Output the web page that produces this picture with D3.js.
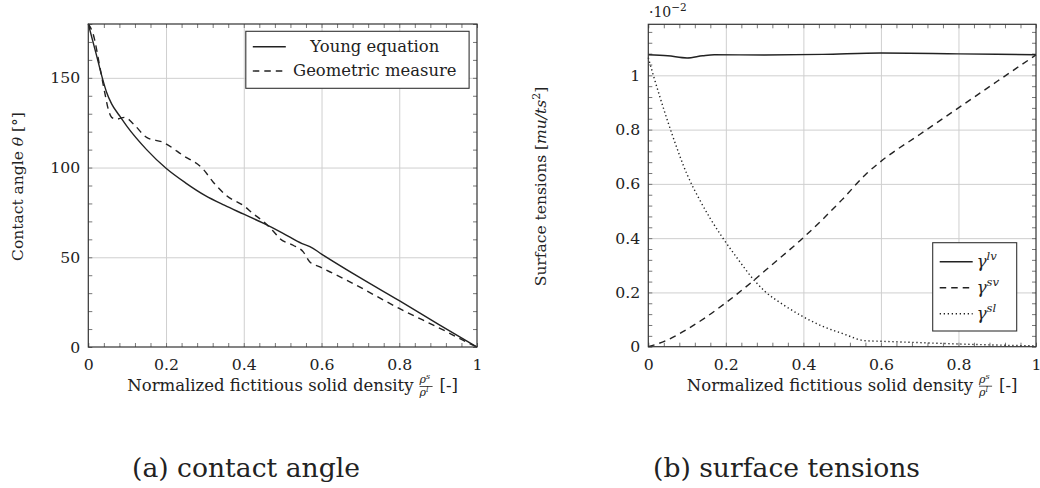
<!DOCTYPE html>
<html>
<head>
<meta charset="utf-8">
<script src="https://cdn.jsdelivr.net/npm/d3@7"></script>
<style>
  body { margin: 0; background: #fff; }
  svg { display: block; }
  text { font-family: "DejaVu Serif", serif; fill: #222; }
  .grid line { stroke: #cfcfcf; stroke-width: 1; }
  .grid .domain { display: none; }
  .minor line { stroke: #777; stroke-width: 1; }
  .minor .domain { display: none; }
  .labels .domain { display: none; }
  .labels line { display: none; }
  .labels text { font-size: 15.7px; }
  .frame { fill: none; stroke: #333; stroke-width: 1.2; }
  .line { fill: none; stroke: #222; stroke-width: 1.4; }
</style>
</head>
<body>
<div id="chart"></div>
<script>
// ---- data (a) contact angle
const youngX = [0, 0.02, 0.036, 0.047, 0.06, 0.08, 0.1, 0.15, 0.2, 0.25, 0.3, 0.35, 0.4, 0.45, 0.5, 0.55, 0.57, 0.6, 0.7, 0.8, 0.9, 1.0];
const youngY = [180, 163.5, 150, 142, 135.5, 129, 122.8, 110, 99.6, 91.5, 84.5, 79, 74, 69, 63.5, 57.6, 56, 51.8, 38.5, 25.8, 12.8, 0];

const geomX = [0, 0.013, 0.03, 0.043, 0.052, 0.06, 0.073, 0.094, 0.116, 0.15, 0.193, 0.244, 0.296, 0.322, 0.356, 0.4, 0.424, 0.45, 0.476, 0.493, 0.527, 0.553, 0.57, 0.596, 0.665, 0.8, 0.922, 0.96, 1.0];
const geomY = [180, 174, 155.7, 141, 132, 128, 127, 128, 124.3, 116.8, 114, 106.7, 99, 91.7, 84.3, 78.7, 74.3, 70, 64.5, 60.4, 56.7, 53, 47.4, 44.6, 37.2, 21.5, 8.5, 4.2, 0];

// ---- data (b) surface tensions (x 1e-2)
const lvX = [0, 0.05, 0.1, 0.14, 0.17, 0.3, 0.45, 0.6, 0.8, 1];
const lvY = [1.076, 1.072, 1.064, 1.072, 1.076, 1.075, 1.077, 1.082, 1.079, 1.076];

const svX = [0, 0.05, 0.1, 0.15, 0.2, 0.27, 0.3, 0.4, 0.5, 0.56, 0.6, 0.7, 0.8, 0.9, 1];
const svY = [0, 0.025, 0.064, 0.11, 0.162, 0.242, 0.279, 0.402, 0.542, 0.634, 0.683, 0.782, 0.88, 0.978, 1.075];

const slX = [0, 0.013, 0.03, 0.062, 0.1, 0.133, 0.16, 0.19, 0.23, 0.27, 0.3, 0.35, 0.4, 0.45, 0.5, 0.56, 0.6, 0.7, 0.8, 0.9, 1];
const slY = [1.065, 1.0, 0.92, 0.78, 0.635, 0.54, 0.472, 0.405, 0.325, 0.25, 0.205, 0.153, 0.11, 0.075, 0.049, 0.022, 0.02, 0.015, 0.01, 0.006, 0.003];

const xTicks = [0, 0.2, 0.4, 0.6, 0.8, 1];
const angleTicks = [0, 50, 100, 150];
const tensionTicks = [0, 0.2, 0.4, 0.6, 0.8, 1];

const svg = d3.select("#chart").append("svg")
  .attr("width", 1040)
  .attr("height", 488);

function zip(xs, ys) {
  return xs.map((x, i) => [x, ys[i]]);
}

function range(a, b, step) {
  const out = [];
  for (let v = a; v <= b + 1e-9; v += step) out.push(+v.toFixed(4));
  return out;
}

function panel(opt) {
  const w = opt.right - opt.left;
  const h = opt.bottom - opt.top;
  const x = d3.scaleLinear().domain([0, 1]).range([0, w]);
  const y = d3.scaleLinear().domain(opt.yDomain).range([h, 0]);

  const g = svg.append("g").attr("transform", `translate(${opt.left},${opt.top})`);

  // grid
  g.append("g").attr("class", "grid")
    .call(d3.axisBottom(x).tickValues(xTicks.slice(1, -1)).tickSize(h).tickFormat(""));
  g.append("g").attr("class", "grid")
    .call(d3.axisLeft(y).tickValues(opt.yTicks.slice(1)).tickSize(-w).tickFormat(""));

  // minor ticks, inward on all four sides
  const xMinor = range(0, 1, 0.04);
  const yMinor = range(opt.yDomain[0], opt.yDomain[1], opt.yMinorStep);
  g.append("g").attr("class", "minor").attr("transform", `translate(0,${h})`)
    .call(d3.axisBottom(x).tickValues(xMinor).tickSize(-4).tickFormat(""));
  g.append("g").attr("class", "minor")
    .call(d3.axisTop(x).tickValues(xMinor).tickSize(-4).tickFormat(""));
  g.append("g").attr("class", "minor")
    .call(d3.axisLeft(y).tickValues(yMinor).tickSize(-4).tickFormat(""));
  g.append("g").attr("class", "minor").attr("transform", `translate(${w},0)`)
    .call(d3.axisRight(y).tickValues(yMinor).tickSize(-4).tickFormat(""));

  // tick labels
  g.append("g").attr("class", "labels").attr("transform", `translate(0,${h})`)
    .call(d3.axisBottom(x).tickValues(xTicks).tickSize(0).tickPadding(12).tickFormat(d3.format("~g")));
  g.append("g").attr("class", "labels")
    .call(d3.axisLeft(y).tickValues(opt.yTicks).tickSize(0).tickPadding(8).tickFormat(d3.format("~g")));

  // curves
  const line = d3.line()
    .x(d => x(d[0]))
    .y(d => y(d[1]))
    .curve(d3.curveMonotoneX);

  opt.series.forEach(s => {
    g.append("path")
      .datum(s.data)
      .attr("class", "line")
      .attr("stroke-dasharray", s.dash)
      .attr("d", line);
  });

  g.append("rect").attr("class", "frame").attr("width", w).attr("height", h);

  // x axis label with stacked fraction
  const lab = g.append("g");
  const main = lab.append("text").style("font-size", "16.5px").text("Normalized fictitious solid density");
  const mainW = main.node().getComputedTextLength();
  const fx = mainW + 6;
  const num = lab.append("text").attr("x", fx).attr("y", -8).style("font-size", "11px").style("font-style", "italic");
  num.append("tspan").text("ρ");
  num.append("tspan").attr("dy", -4).style("font-size", "8px").text("s");
  lab.append("line").attr("x1", fx).attr("x2", fx + 13).attr("y1", -4.5).attr("y2", -4.5)
    .attr("stroke", "#222").attr("stroke-width", 0.8);
  const den = lab.append("text").attr("x", fx).attr("y", 5).style("font-size", "11px").style("font-style", "italic");
  den.append("tspan").text("ρ");
  den.append("tspan").attr("dy", -4).style("font-size", "8px").text("l");
  const br = lab.append("text").attr("x", fx + 20).style("font-size", "16.5px").text("[-]");
  const totalW = fx + 20 + br.node().getComputedTextLength();
  lab.attr("transform", `translate(${w / 2 + 10 - totalW / 2},${h + 44})`);

  // y axis label
  const yl = svg.append("text")
    .attr("transform", `translate(${opt.yLabelX},${opt.top + h / 2 + 1}) rotate(-90)`)
    .attr("text-anchor", "middle")
    .style("font-size", "15.5px");
  opt.yLabel(yl);

  // legend
  const lg = g.append("g").attr("transform", `translate(${opt.legend.x},${opt.legend.y})`);
  lg.append("rect")
    .attr("width", opt.legend.w).attr("height", opt.legend.h)
    .attr("fill", "#fff").attr("stroke", "#333").attr("stroke-width", 1.1);
  opt.series.forEach((s, i) => {
    const ly = opt.legend.first + i * opt.legend.step;
    lg.append("line")
      .attr("class", "line")
      .attr("x1", 7).attr("x2", 7 + opt.legend.sample)
      .attr("y1", ly).attr("y2", ly)
      .attr("stroke-dasharray", s.dash);
    const t = lg.append("text")
      .attr("x", opt.legend.textX).attr("y", ly + 5.5)
      .attr("text-anchor", opt.legend.anchor);
    s.label(t);
  });

  return g;
}

// (a) contact angle
panel({
  left: 88.3, right: 477, top: 24, bottom: 347,
  yDomain: [0, 180], yTicks: angleTicks, yMinorStep: 10,
  yLabelX: 23,
  yLabel: t => {
    t.append("tspan").text("Contact angle ");
    t.append("tspan").style("font-style", "italic").text("θ");
    t.append("tspan").text(" [°]");
  },
  series: [
    { data: zip(youngX, youngY), dash: null, label: t => t.style("font-size", "16.4px").text("Young equation") },
    { data: zip(geomX, geomY), dash: "6.5,5", label: t => t.style("font-size", "16.4px").text("Geometric measure") }
  ],
  legend: { x: 157.5, y: 7.3, w: 223.3, h: 57, first: 15.4, step: 24.3, sample: 33, textX: 129, anchor: "middle" }
});

// (b) surface tensions
panel({
  left: 648.3, right: 1036, top: 24.3, bottom: 346.7,
  yDomain: [0, 1.188], yTicks: tensionTicks, yMinorStep: 0.04,
  yLabelX: 546,
  yLabel: t => {
    t.append("tspan").text("Surface tensions [");
    t.append("tspan").style("font-style", "italic").text("mu/ts");
    t.append("tspan").attr("dy", -6).style("font-size", "11px").text("2");
    t.append("tspan").attr("dy", 6).text("]");
  },
  series: [
    { data: zip(lvX, lvY), dash: null, label: t => gamma(t, "lv") },
    { data: zip(svX, svY), dash: "6.5,5", label: t => gamma(t, "sv") },
    { data: zip(slX, slY), dash: "1.3,2.7", label: t => gamma(t, "sl") }
  ],
  legend: { x: 284.4, y: 218.4, w: 84, h: 88.3, first: 19, step: 26, sample: 33, textX: 44, anchor: "start" }
});

function gamma(t, sup) {
  t.style("font-size", "16.5px").style("font-style", "italic");
  t.append("tspan").text("γ");
  t.append("tspan").attr("dy", -7).style("font-size", "11.5px").text(sup);
}

// scale factor label
const sf = svg.append("text").attr("x", 649).attr("y", 16.7).style("font-size", "14px");
sf.append("tspan").text("·10");
sf.append("tspan").attr("dy", -6).style("font-size", "10.5px").text("−2");

// captions
svg.append("text").attr("x", 246).attr("y", 477).attr("text-anchor", "middle")
  .style("font-size", "26.6px").text("(a) contact angle");
svg.append("text").attr("x", 786.5).attr("y", 477).attr("text-anchor", "middle")
  .style("font-size", "26.6px").text("(b) surface tensions");
</script>
</body>
</html>
